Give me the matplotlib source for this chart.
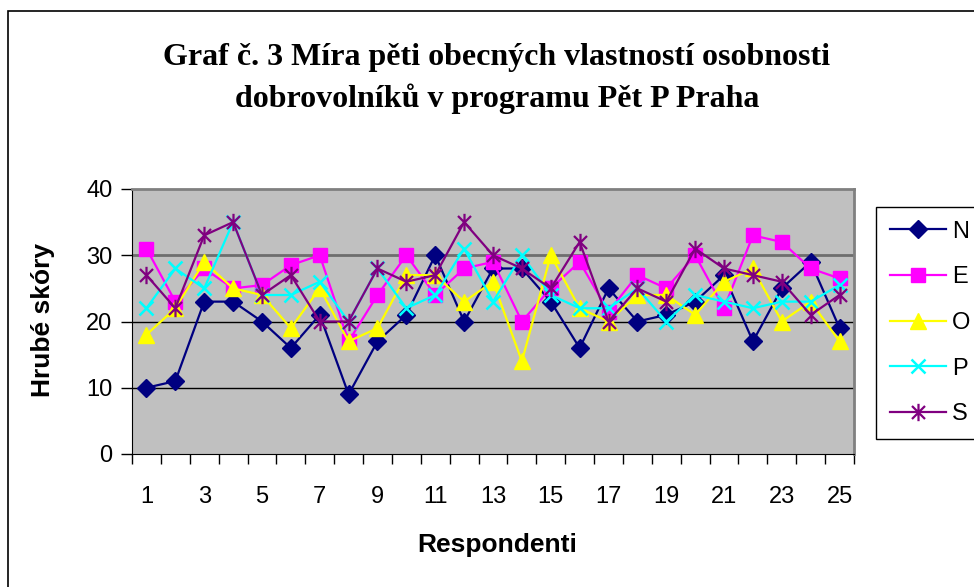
import matplotlib
matplotlib.use("Agg")
import matplotlib.pyplot as plt
import numpy as np
from matplotlib.path import Path
from matplotlib.patches import Rectangle

respondents = list(range(1, 26))
N = [10, 11, 23, 23, 20, 16, 21, 9, 17, 21, 30, 20, 28, 28, 23, 16, 25, 20, 21, 23, 27, 17, 25, 29, 19]
E = [31, 23, 28, 25, 25.5, 28.5, 30, 17, 24, 30, 24, 28, 29, 20, 25, 29, 21.5, 27, 25, 30, 22, 33, 32, 28, 26.5]
O = [18, 22, 29, 25, 24, 19, 25, 17, 19, 27, 27, 23, 26, 14, 30, 22, 20, 24, 24, 21, 26, 28, 20, 23, 17]
P = [22, 28, 25, 35, 24, 24, 26, 20, 28, 22, 24, 31, 23, 30, 24, 22, 22, 25, 20, 24, 23, 22, 23, 23, 25.5]
S = [27, 22, 33, 35, 24, 27, 20, 20, 28, 26, 27, 35, 30, 28, 25, 32, 20, 25, 23, 31, 28, 27, 26, 21, 24]
series_names = ["N", "E", "O", "P", "S"]
title = "Graf č. 3 Míra pěti obecných vlastností osobnosti\ndobrovolníků v programu Pět P Praha"
x_label = "Respondenti"
y_label = "Hrubé skóry"

# asterisk marker: vertical line + X
star = Path([(0, -1), (0, 1), (-0.75, -0.75), (0.75, 0.75), (-0.75, 0.75), (0.75, -0.75)],
            [Path.MOVETO, Path.LINETO, Path.MOVETO, Path.LINETO, Path.MOVETO, Path.LINETO])

styles = {
    "N": dict(color="#000080", marker="D", ms=9.5, mec="#000080", mfc="#000080"),
    "E": dict(color="#FF00FF", marker="s", ms=9.5, mec="#FF00FF", mfc="#FF00FF"),
    "O": dict(color="#FFFF00", marker="^", ms=11.5, mec="#FFFF00", mfc="#FFFF00"),
    "P": dict(color="#00FFFF", marker="x", ms=10, mew=1.8),
    "S": dict(color="#800080", marker=star, ms=12.5, mew=1.6),
}

fig = plt.figure(figsize=(9.74, 5.87), dpi=100)
fig.patch.set_facecolor("white")
fig.patches.append(Rectangle((8 / 974, -0.1), 1.2, (587 - 11) / 587 + 0.1, transform=fig.transFigure,
                             fill=False, edgecolor="black", lw=1.2, zorder=0))

ax = fig.add_axes([132 / 974, (587 - 454) / 587, (854 - 132) / 974, (454 - 189) / 587])
ax.set_facecolor("#C0C0C0")

data = {"N": N, "E": E, "O": O, "P": P, "S": S}
for name in series_names:
    ax.plot(respondents, data[name], lw=1.6, label=name, zorder=3, **styles[name])

ax.set_xlim(0.5, 25.5)
ax.set_ylim(0, 40)
ax.set_yticks([0, 10, 20, 30, 40])
for yv in [10, 20]:
    ax.axhline(yv, color="black", lw=1.0, zorder=1)
ax.axhline(30, color="#6E6E6E", lw=2.0, zorder=1)

ax.set_xticks(respondents[::2])
ax.set_xticks(np.arange(0.5, 26, 1), minor=True)
ax.tick_params(axis="x", which="major", length=0, pad=23, labelsize=17)
ax.tick_params(axis="x", which="minor", length=7, width=1, direction="out")
ax.tick_params(axis="y", length=8, width=1, direction="out", labelsize=17, pad=6)
for lab in ax.get_xticklabels() + ax.get_yticklabels():
    lab.set_fontfamily("Liberation Sans")

ax.spines["left"].set_color("black")
ax.spines["bottom"].set_color("black")
ax.spines["top"].set_color("#808080")
ax.spines["right"].set_color("#808080")
ax.spines["top"].set_linewidth(2)
ax.spines["right"].set_linewidth(2)

ax.set_xlabel(x_label, fontfamily="Liberation Sans", fontweight="bold", fontsize=19)
ax.set_ylabel(y_label, fontfamily="Liberation Sans", fontweight="bold", fontsize=19)
ax.xaxis.set_label_coords((497 - 132) / 722, (454 - 545) / 265)
ax.xaxis.label.set_va("center")
ax.yaxis.set_label_coords((43 - 132) / 722, (454 - 320) / 265)
ax.yaxis.label.set_va("center")

fig.text(0.510, 1 - 78.5 / 587, title, ha="center", va="center", fontfamily="Liberation Serif",
         fontweight="bold", fontsize=23, linespacing=1.45)

leg = fig.legend(loc="upper left", bbox_to_anchor=(876 / 974, 1 - 207 / 587), frameon=True,
                 fancybox=False, edgecolor="black", framealpha=1, handlelength=2.4,
                 handletextpad=0.25, labelspacing=1.0, borderpad=0.58, borderaxespad=0,
                 prop={"family": "Liberation Sans", "size": 17})
leg.get_frame().set_linewidth(1.0)

fig.savefig("out.png", dpi=100, facecolor="white")
